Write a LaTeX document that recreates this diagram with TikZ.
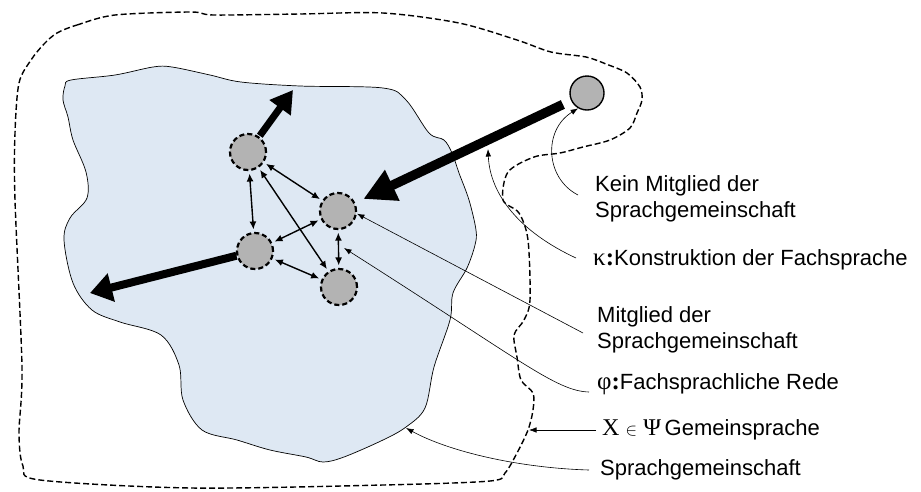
\documentclass[tikz,border=0pt]{standalone}
\usepackage{fontspec}
\setmainfont{Liberation Sans}
\newfontfamily\greekfont{Liberation Serif}
\usetikzlibrary{arrows.meta}
\definecolor{regionblue}{HTML}{DEE8F3}
\definecolor{membergrey}{HTML}{B3B3B3}

\begin{document}
\begin{tikzpicture}[x=1pt,y=-1pt,
  member/.style={circle,draw,fill=membergrey,minimum size=36pt,inner sep=0pt,
    line width=2.2pt,dash pattern=on 5pt off 3pt},
  outsider/.style={circle,draw,fill=membergrey,minimum size=34pt,inner sep=0pt,line width=1.4pt},
  talk/.style={line width=1.4pt,
    {Latex[length=8pt,width=7pt]}-{Latex[length=8pt,width=7pt]},
    shorten <=2.5pt,shorten >=2.5pt},
  callout/.style={line width=0.6pt,-{Latex[length=7.5pt,width=5.5pt]}},
  notetext/.style={anchor=west,align=left,inner sep=0pt,
    font=\fontsize{22}{26}\selectfont},
  community/.style={fill=regionblue,draw=black,line width=0.7pt},
  languageborder/.style={draw=black,line width=1.4pt,dash pattern=on 6pt off 3pt},
]
\useasboundingbox (0,0) rectangle (921,491);

% the language community (blue region)
\path[community] plot[smooth cycle,tension=0.55] coordinates {
  (71,80) (115,75) (153,67) (172,67) (210,75) (241,82) (300,86) (383,88)
  (406,100) (429,133) (444,140) (452,153) (459,173) (469,200) (476,230)
  (475,245) (467,268) (453,293) (450,320) (434,367) (425,408) (406,427)
  (383,440) (344,457) (323,462) (306,457) (270,450) (237,440) (202,430)
  (183,400) (179,365) (161,335) (120,322) (92,310) (73,283) (64,240)
  (70,218) (87,198) (86,172) (73,140) (68,117) (63,100) (65,86)};

% border of the common language
\draw[languageborder] plot[smooth cycle,tension=0.5] coordinates {
  (57,33) (77,25) (115,15) (191,12) (214,15) (300,14) (383,13) (459,23)
  (517,40) (551,52) (586,57) (606,64) (627,73) (640,87) (642,100) (637,113)
  (630,128) (610,140) (583,147) (560,153) (534,157) (508,172) (503,200)
  (519,213) (528,240) (530,300) (524,320) (514,335) (517,357) (521,380)
  (533,393) (533,410) (528,430) (517,453) (505,473) (490,481) (383,485)
  (191,488) (40,480) (23,466) (19,433) (22,367) (15,200) (15,133) (19,83)
  (31,60) (44,44)};

% members and the outsider
\node[member] (A) at (248,152) {};
\node[member] (B) at (338,211) {};
\node[member] (C) at (255,251) {};
\node[member] (D) at (339,287) {};
\node[outsider] (N) at (587,93) {};

% technical talk between members
\draw[talk] (A) -- (B);
\draw[talk] (A) -- (C);
\draw[talk] (A) -- (D);
\draw[talk] (B) -- (C);
\draw[talk] (C) -- (D);
\draw[talk] (B) -- (D);

% heavy arrows
\coordinate (upA) at (293,90);
\coordinate (outC) at (90,293);
\draw[line width=7pt,-{Triangle[length=22pt,width=25pt]},shorten <=1pt] (A) -- (upA);
\draw[line width=8pt,-{Triangle[length=22pt,width=28pt]}] (C) -- (outC);
\draw[line width=9.5pt,-{Triangle[length=32pt,width=32pt]},shorten <=9pt,shorten >=9pt] (N) -- (B);

% labels
\node[notetext] (kein) at (595,199) {Kein Mitglied der\\Sprachgemeinschaft};
\node[notetext] (kappa) at (593,260) {{\greekfont\fontsize{25}{26}\selectfont κ\textbf{:}}Konstruktion der Fachsprache};
\node[notetext] (mitglied) at (597,330) {Mitglied der\\Sprachgemeinschaft};
\node[notetext] (phi) at (597,384) {{\greekfont\fontsize{25}{26}\selectfont φ\textbf{:}}Fachsprachliche Rede};
\node[notetext] (gemein) at (602,430) {{\greekfont\fontsize{24}{26}\selectfont Χ} {\fontsize{16}{16}\selectfont$\in$} {\greekfont\fontsize{24}{26}\selectfont Ψ}\,Gemeinsprache};
\node[notetext] (gemeinschaft) at (600,470) {Sprachgemeinschaft};

% callout lines
\coordinate (keinStart) at (578,195);
\coordinate (kappaStart) at (576,258);
\coordinate (kappaTip) at (488,149);
\coordinate (mitStart) at (583,333);
\coordinate (phiStart) at (589,392);
\coordinate (phiTip) at (344,248);
\coordinate (gemStart) at (596,430);
\coordinate (gemTip) at (529,430);
\coordinate (gsStart) at (589,470);
\coordinate (gsTip) at (406,428);

\draw[callout] (keinStart) .. controls (545,178) and (543,130) .. (N.240);
\draw[callout] (kappaStart) .. controls (520,232) and (490,195) .. (kappaTip);
\draw[callout] (mitStart) -- (B.-8);
\draw[callout] (phiStart) .. controls (556,391) and (522,361) .. (phiTip);
\draw[callout] (gemStart) -- (gemTip);
\draw[callout] (gsStart) .. controls (520,468) and (450,452) .. (gsTip);
\end{tikzpicture}
\end{document}
